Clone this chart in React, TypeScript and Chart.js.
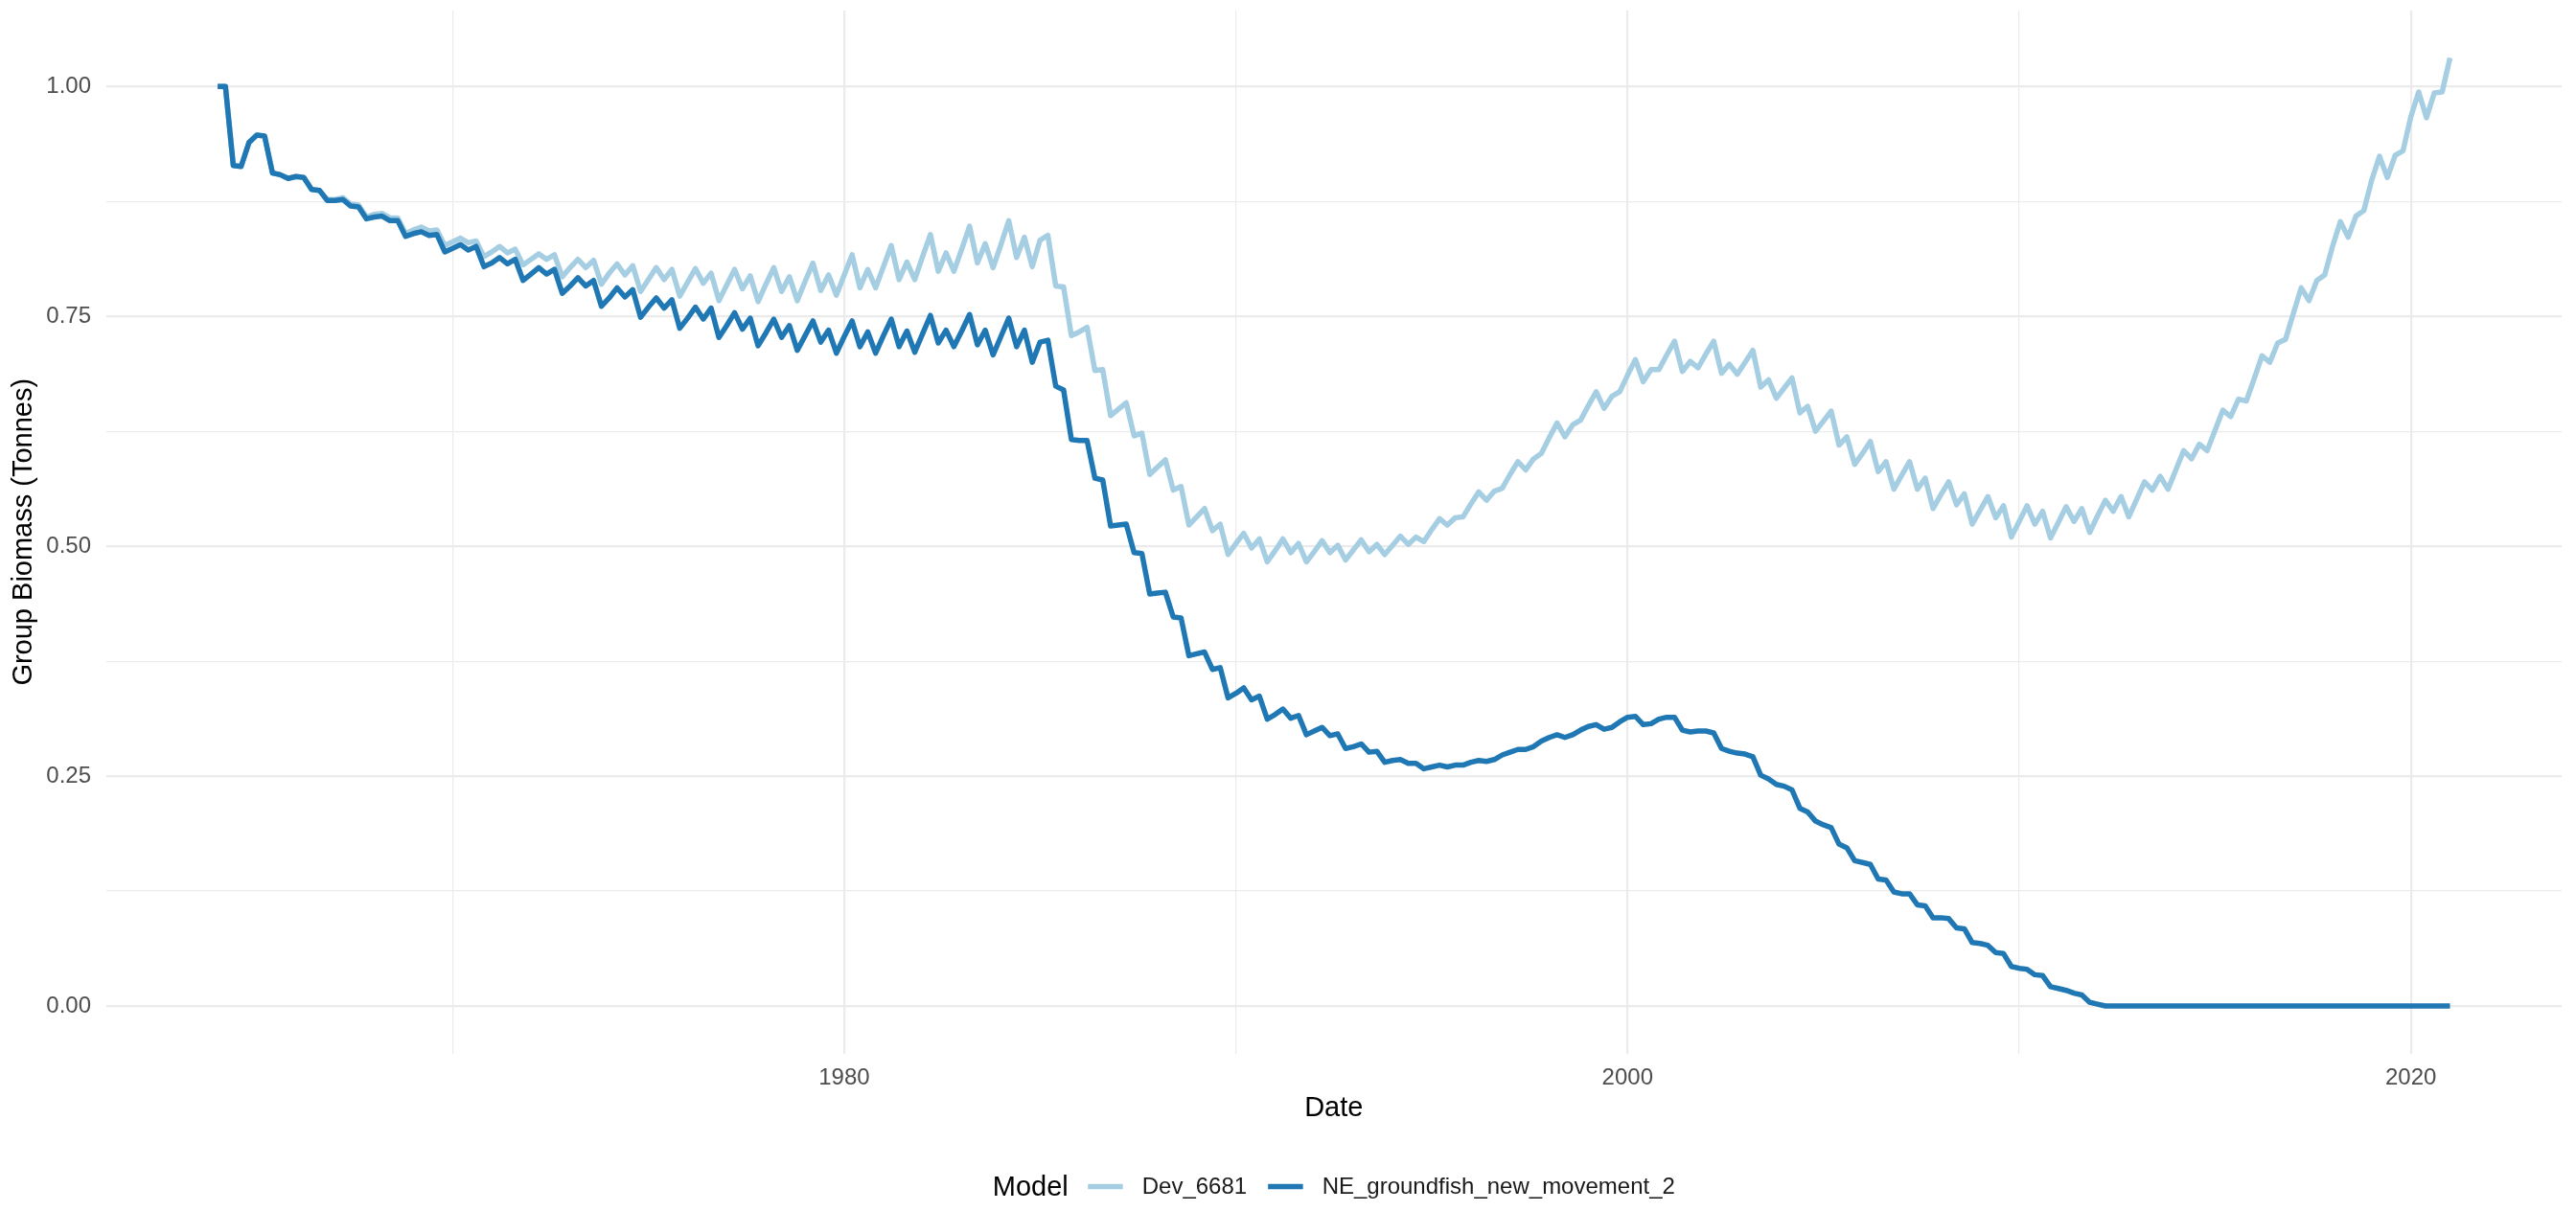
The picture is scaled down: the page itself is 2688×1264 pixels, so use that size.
import React, { useEffect, useRef } from "react";
import { Chart, registerables } from "chart.js";

Chart.register(...registerables);

// ---- data ----
const START_YEAR = 1964;
const STEP_YEARS = 0.2; // 73-day output steps (5 per year)
const MODELS = ["Dev_6681", "NE_groundfish_new_movement_2"];
const COLORS = ["#A6CEE3", "#1F78B4"];
const X_MAJOR = [1980, 2000, 2020];
const X_MINOR = [1970, 1990, 2010];
const Y_MAJOR = [0, 0.25, 0.5, 0.75, 1.0];
const Y_MINOR = [0.125, 0.375, 0.625, 0.875];
const X_TITLE = "Date";
const Y_TITLE = "Group Biomass (Tonnes)";
const LEGEND_TITLE = "Model";

// one row per year: values at .0 .2 .4 .6 .8
const DEV_6681 = [
  1.000, 1.000, 0.914, 0.913, 0.939, // 1964
  0.947, 0.946, 0.906, 0.904, 0.900, // 1965
  0.902, 0.901, 0.888, 0.887, 0.877, // 1966
  0.877, 0.879, 0.872, 0.871, 0.858, // 1967
  0.861, 0.862, 0.857, 0.857, 0.840, // 1968
  0.844, 0.847, 0.843, 0.844, 0.827, // 1969
  0.831, 0.835, 0.830, 0.832, 0.815, // 1970
  0.820, 0.826, 0.819, 0.823, 0.806, // 1971
  0.812, 0.818, 0.812, 0.817, 0.793, // 1972
  0.803, 0.812, 0.803, 0.811, 0.785, // 1973
  0.797, 0.807, 0.795, 0.805, 0.777, // 1974
  0.790, 0.803, 0.790, 0.801, 0.772, // 1975
  0.787, 0.802, 0.786, 0.797, 0.767, // 1976
  0.784, 0.801, 0.780, 0.794, 0.766, // 1977
  0.785, 0.803, 0.777, 0.793, 0.767, // 1978
  0.788, 0.808, 0.778, 0.795, 0.773, // 1979
  0.795, 0.817, 0.781, 0.801, 0.781, // 1980
  0.804, 0.827, 0.790, 0.809, 0.790, // 1981
  0.815, 0.839, 0.799, 0.819, 0.799, // 1982
  0.823, 0.848, 0.808, 0.829, 0.803, // 1983
  0.828, 0.854, 0.814, 0.836, 0.804, // 1984
  0.833, 0.838, 0.783, 0.782, 0.729, // 1985
  0.733, 0.738, 0.691, 0.692, 0.642, // 1986
  0.649, 0.656, 0.620, 0.623, 0.578, // 1987
  0.586, 0.594, 0.561, 0.565, 0.523, // 1988
  0.532, 0.541, 0.517, 0.524, 0.491, // 1989
  0.503, 0.514, 0.498, 0.508, 0.483, // 1990
  0.495, 0.508, 0.493, 0.503, 0.483, // 1991
  0.494, 0.506, 0.493, 0.501, 0.485, // 1992
  0.496, 0.507, 0.494, 0.502, 0.491, // 1993
  0.501, 0.511, 0.502, 0.510, 0.505, // 1994
  0.518, 0.530, 0.523, 0.531, 0.532, // 1995
  0.546, 0.559, 0.550, 0.560, 0.563, // 1996
  0.578, 0.592, 0.583, 0.595, 0.601, // 1997
  0.618, 0.634, 0.619, 0.632, 0.637, // 1998
  0.653, 0.668, 0.650, 0.663, 0.668, // 1999
  0.686, 0.703, 0.679, 0.692, 0.692, // 2000
  0.708, 0.723, 0.690, 0.701, 0.694, // 2001
  0.709, 0.723, 0.688, 0.698, 0.687, // 2002
  0.700, 0.713, 0.673, 0.681, 0.661, // 2003
  0.672, 0.683, 0.645, 0.652, 0.625, // 2004
  0.636, 0.647, 0.610, 0.619, 0.589, // 2005
  0.601, 0.614, 0.581, 0.592, 0.562, // 2006
  0.577, 0.592, 0.562, 0.574, 0.541, // 2007
  0.556, 0.570, 0.545, 0.557, 0.524, // 2008
  0.539, 0.554, 0.531, 0.544, 0.510, // 2009
  0.527, 0.544, 0.524, 0.538, 0.509, // 2010
  0.526, 0.543, 0.527, 0.541, 0.515, // 2011
  0.533, 0.550, 0.538, 0.554, 0.532, // 2012
  0.551, 0.570, 0.561, 0.576, 0.562, // 2013
  0.583, 0.604, 0.595, 0.611, 0.604, // 2014
  0.626, 0.648, 0.641, 0.660, 0.658, // 2015
  0.682, 0.707, 0.700, 0.721, 0.725, // 2016
  0.753, 0.781, 0.767, 0.789, 0.795, // 2017
  0.826, 0.853, 0.836, 0.859, 0.865, // 2018
  0.898, 0.924, 0.901, 0.925, 0.930, // 2019
  0.967, 0.994, 0.966, 0.993, 0.994, // 2020
  1.031, // 2021
];

const NE_GROUNDFISH_NEW_MOVEMENT_2 = [
  1.000, 1.000, 0.914, 0.913, 0.939, // 1964
  0.947, 0.946, 0.906, 0.904, 0.900, // 1965
  0.902, 0.901, 0.888, 0.887, 0.876, // 1966
  0.876, 0.877, 0.870, 0.869, 0.856, // 1967
  0.858, 0.859, 0.854, 0.854, 0.837, // 1968
  0.840, 0.842, 0.838, 0.839, 0.820, // 1969
  0.824, 0.828, 0.822, 0.826, 0.804, // 1970
  0.808, 0.814, 0.807, 0.812, 0.789, // 1971
  0.796, 0.803, 0.796, 0.801, 0.775, // 1972
  0.783, 0.792, 0.783, 0.789, 0.761, // 1973
  0.770, 0.781, 0.771, 0.779, 0.749, // 1974
  0.760, 0.770, 0.759, 0.768, 0.737, // 1975
  0.748, 0.760, 0.747, 0.759, 0.727, // 1976
  0.740, 0.754, 0.736, 0.748, 0.718, // 1977
  0.732, 0.747, 0.727, 0.740, 0.713, // 1978
  0.729, 0.745, 0.722, 0.735, 0.710, // 1979
  0.728, 0.745, 0.717, 0.733, 0.710, // 1980
  0.729, 0.747, 0.717, 0.734, 0.711, // 1981
  0.731, 0.751, 0.721, 0.735, 0.717, // 1982
  0.734, 0.752, 0.719, 0.735, 0.708, // 1983
  0.728, 0.748, 0.717, 0.735, 0.700, // 1984
  0.722, 0.724, 0.674, 0.670, 0.616, // 1985
  0.615, 0.615, 0.574, 0.572, 0.522, // 1986
  0.523, 0.524, 0.493, 0.492, 0.448, // 1987
  0.449, 0.450, 0.423, 0.422, 0.381, // 1988
  0.383, 0.385, 0.366, 0.368, 0.335, // 1989
  0.340, 0.346, 0.333, 0.337, 0.312, // 1990
  0.317, 0.323, 0.313, 0.316, 0.295, // 1991
  0.299, 0.303, 0.294, 0.296, 0.280, // 1992
  0.282, 0.285, 0.276, 0.277, 0.265, // 1993
  0.267, 0.268, 0.264, 0.264, 0.258, // 1994
  0.260, 0.262, 0.260, 0.262, 0.262, // 1995
  0.265, 0.267, 0.266, 0.268, 0.273, // 1996
  0.276, 0.279, 0.279, 0.282, 0.288, // 1997
  0.292, 0.295, 0.292, 0.295, 0.300, // 1998
  0.304, 0.306, 0.301, 0.303, 0.309, // 1999
  0.314, 0.315, 0.306, 0.307, 0.312, // 2000
  0.314, 0.314, 0.300, 0.298, 0.299, // 2001
  0.299, 0.297, 0.280, 0.277, 0.275, // 2002
  0.274, 0.271, 0.251, 0.247, 0.241, // 2003
  0.239, 0.235, 0.215, 0.211, 0.201, // 2004
  0.197, 0.194, 0.176, 0.172, 0.158, // 2005
  0.156, 0.154, 0.138, 0.137, 0.124, // 2006
  0.122, 0.122, 0.110, 0.109, 0.096, // 2007
  0.096, 0.095, 0.085, 0.084, 0.069, // 2008
  0.068, 0.066, 0.058, 0.057, 0.043, // 2009
  0.041, 0.040, 0.034, 0.033, 0.021, // 2010
  0.019, 0.017, 0.014, 0.012, 0.004, // 2011
  0.002, 0.000, 0.000, 0.000, 0.000, // 2012
  0.000, 0.000, 0.000, 0.000, 0.000, // 2013
  0.000, 0.000, 0.000, 0.000, 0.000, // 2014
  0.000, 0.000, 0.000, 0.000, 0.000, // 2015
  0.000, 0.000, 0.000, 0.000, 0.000, // 2016
  0.000, 0.000, 0.000, 0.000, 0.000, // 2017
  0.000, 0.000, 0.000, 0.000, 0.000, // 2018
  0.000, 0.000, 0.000, 0.000, 0.000, // 2019
  0.000, 0.000, 0.000, 0.000, 0.000, // 2020
  0.000, // 2021
];

const SERIES = [DEV_6681, NE_GROUNDFISH_NEW_MOVEMENT_2];

// ---- layout / style ----
const W = 2688;
const H = 1264;
const FONT = '"Liberation Sans", Arial, Helvetica, sans-serif';
const TICK_SIZE = 24;
const TITLE_SIZE = 29;
const GRID = "#EBEBEB";
const MAJOR_W = 2.2;
const MINOR_W = 1.2;
const LINE_W = 5.5;

function timeOf(i: number) {
  return START_YEAR + i * STEP_YEARS;
}

const ggLegend = {
  id: "ggLegend",
  afterDraw(chart: any) {
    const ctx = chart.ctx as CanvasRenderingContext2D;
    const area = chart.chartArea;
    ctx.save();
    ctx.textBaseline = "middle";
    ctx.textAlign = "left";
    const cy = 1239.5;
    const keyLen = 36.5;
    ctx.font = `${TITLE_SIZE}px ${FONT}`;
    const wTitle = ctx.measureText(LEGEND_TITLE).width;
    ctx.font = `${TICK_SIZE}px ${FONT}`;
    const wLabels = MODELS.map((m) => ctx.measureText(m).width);
    const gapTitleKey = 20.5;
    const gapKeyText = 20;
    const gapItems = 22;
    let total = wTitle + gapTitleKey;
    wLabels.forEach((w, i) => {
      total += keyLen + gapKeyText + w + (i < wLabels.length - 1 ? gapItems : 0);
    });
    let x = (area.left + area.right) / 2 - total / 2;
    ctx.fillStyle = "#000000";
    ctx.font = `${TITLE_SIZE}px ${FONT}`;
    ctx.fillText(LEGEND_TITLE, x, cy);
    x += wTitle + gapTitleKey;
    ctx.font = `${TICK_SIZE}px ${FONT}`;
    MODELS.forEach((m, i) => {
      ctx.strokeStyle = COLORS[i];
      ctx.lineWidth = LINE_W;
      ctx.lineCap = "butt";
      ctx.beginPath();
      ctx.moveTo(x, cy - 1);
      ctx.lineTo(x + keyLen, cy - 1);
      ctx.stroke();
      x += keyLen + gapKeyText;
      ctx.fillStyle = "#1A1A1A";
      ctx.fillText(m, x, cy);
      x += wLabels[i] + gapItems;
    });
    ctx.restore();
  },
};

export default function App() {
  const ref = useRef<HTMLCanvasElement | null>(null);

  useEffect(() => {
    const canvas = ref.current;
    if (!canvas) return;

    const allVals = SERIES.flat();
    const yLo = Math.min(...allVals);
    const yHi = Math.max(...allVals);
    const yPad = (yHi - yLo) * 0.05;
    const xLo = timeOf(0);
    const xHi = timeOf(DEV_6681.length - 1);
    const xPad = (xHi - xLo) * 0.05;

    const xTicks = [...X_MINOR, ...X_MAJOR].sort((a, b) => a - b);
    const yTicks = [...Y_MINOR, ...Y_MAJOR].sort((a, b) => a - b);

    const datasets = SERIES.map((vals, si) => ({
      label: MODELS[si],
      data: vals.map((v, i) => ({ x: timeOf(i), y: v })),
      borderColor: COLORS[si],
      backgroundColor: COLORS[si],
      borderWidth: LINE_W,
      borderJoinStyle: "round" as const,
      borderCapStyle: "butt" as const,
      pointRadius: 0,
      pointHoverRadius: 0,
      fill: false,
      tension: 0,
      order: SERIES.length - 1 - si,
    }));

    const chart = new Chart(canvas, {
      type: "line",
      data: { datasets },
      plugins: [ggLegend],
      options: {
        animation: false,
        responsive: false,
        devicePixelRatio: 1,
        events: [],
        layout: { autoPadding: false, padding: { top: 11, right: 15, bottom: 84, left: 0 } },
        plugins: {
          legend: { display: false },
          tooltip: { enabled: false },
          title: { display: false },
        },
        scales: {
          x: {
            type: "linear",
            min: xLo - xPad,
            max: xHi + xPad,
            bounds: "data",
            afterBuildTicks: (s: any) => {
              s.ticks = xTicks.map((v) => ({ value: v }));
            },
            afterFit: (s: any) => {
              s.height = 80.5;
              s.paddingLeft = 0;
              s.paddingRight = 0;
              s.paddingTop = 0;
              s.paddingBottom = 0;
            },
            border: { display: false },
            grid: {
              color: GRID,
              drawTicks: false,
              lineWidth: (c: any) => (X_MAJOR.includes(c.tick?.value) ? MAJOR_W : MINOR_W),
            },
            ticks: {
              autoSkip: false,
              maxRotation: 0,
              padding: 11.3,
              color: "#4D4D4D",
              font: { family: FONT, size: TICK_SIZE },
              callback: (v: any) => (X_MAJOR.includes(Number(v)) ? String(v) : ""),
            },
            title: {
              display: true,
              text: X_TITLE,
              color: "#000000",
              font: { family: FONT, size: TITLE_SIZE },
              padding: { top: 0, bottom: 6 },
            },
          },
          y: {
            type: "linear",
            min: yLo - yPad,
            max: yHi + yPad,
            bounds: "data",
            afterBuildTicks: (s: any) => {
              s.ticks = yTicks.map((v) => ({ value: v }));
            },
            afterFit: (s: any) => {
              s.width = 110.6;
              s.paddingLeft = 0;
              s.paddingRight = 0;
              s.paddingTop = 0;
              s.paddingBottom = 0;
            },
            border: { display: false },
            grid: {
              color: GRID,
              drawTicks: false,
              lineWidth: (c: any) => (Y_MAJOR.includes(c.tick?.value) ? MAJOR_W : MINOR_W),
            },
            ticks: {
              autoSkip: false,
              padding: 15.6,
              color: "#4D4D4D",
              font: { family: FONT, size: TICK_SIZE },
              callback: (v: any) => (Y_MAJOR.includes(Number(v)) ? Number(v).toFixed(2) : ""),
            },
            title: {
              display: true,
              text: Y_TITLE,
              color: "#000000",
              font: { family: FONT, size: TITLE_SIZE },
              padding: { top: 7.5, bottom: 0 },
            },
          },
        },
      } as any,
    });

    return () => {
      chart.destroy();
    };
  }, []);

  return (
    <div style={{ position: "fixed", left: 0, top: 0, width: W, height: H, background: "#FFFFFF" }}>
      <canvas ref={ref} width={W} height={H} style={{ display: "block", width: W, height: H }} />
    </div>
  );
}
